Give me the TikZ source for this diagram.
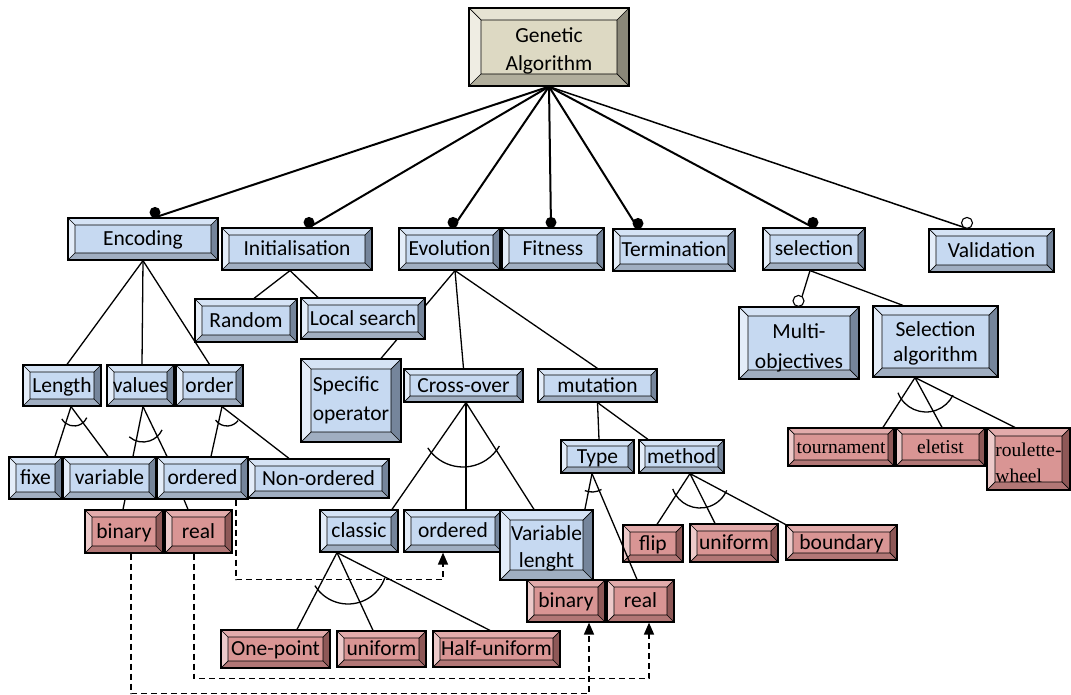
\documentclass[tikz,border=0pt]{standalone}
\usepackage{fontspec}
\newfontfamily\calfont{Carlito}
\newfontfamily\timesfont{Liberation Serif}
\usetikzlibrary{arrows.meta,calc}
\pgfdeclarelayer{bg}
\pgfsetlayers{bg,main}
\definecolor{bface}{HTML}{C6D9F1}
\definecolor{btop}{HTML}{D5E3F5}
\definecolor{bleft}{HTML}{E4EDF9}
\definecolor{bright}{HTML}{75859B}
\definecolor{bbot}{HTML}{A0AEC1}
\definecolor{rface}{HTML}{D99594}
\definecolor{rtop}{HTML}{E2ABAB}
\definecolor{rleft}{HTML}{EDCACA}
\definecolor{rright}{HTML}{8E5857}
\definecolor{rbot}{HTML}{B27776}
\definecolor{tface}{HTML}{DDD9C3}
\definecolor{ttop}{HTML}{E6E3D3}
\definecolor{tleft}{HTML}{EFEDE3}
\definecolor{tright}{HTML}{8A8778}
\definecolor{tbot}{HTML}{B1AE9C}
\newcommand\bevelpaint{%
  \path (path picture bounding box.north west) coordinate (pNW)
        (path picture bounding box.north east) coordinate (pNE)
        (path picture bounding box.south east) coordinate (pSE)
        (path picture bounding box.south west) coordinate (pSW);
  \path (pNW) ++(\bvd,-\bvd) coordinate (qNW)
        (pNE) ++(-\bvd,-\bvd) coordinate (qNE)
        (pSE) ++(-\bvd,\bvd) coordinate (qSE)
        (pSW) ++(\bvd,\bvd) coordinate (qSW);
  \fill[\bvT] (pNW) -- (pNE) -- (qNE) -- (qNW) -- cycle;
  \fill[\bvL] (pNW) -- (qNW) -- (qSW) -- (pSW) -- cycle;
  \fill[\bvR] (pNE) -- (pSE) -- (qSE) -- (qNE) -- cycle;
  \fill[\bvB] (pSW) -- (qSW) -- (qSE) -- (pSE) -- cycle;
  \draw[line width=0.7pt] (qNW) rectangle (qSE) (pNW)--(qNW) (pNE)--(qNE) (pSE)--(qSE) (pSW)--(qSW);
}
\newcommand\up[1]{\rule{0pt}{#1pt}}
\def\bvd{7}
\tikzset{
  x=1pt, y=1pt,
  bvd/.code={\def\bvd{#1}},
  blueb/.style={fill=bface,/utils/exec={\def\bvT{btop}\def\bvL{bleft}\def\bvR{bright}\def\bvB{bbot}}},
  redb/.style={fill=rface,/utils/exec={\def\bvT{rtop}\def\bvL{rleft}\def\bvR{rright}\def\bvB{rbot}}},
  tanb/.style={fill=tface,/utils/exec={\def\bvT{ttop}\def\bvL{tleft}\def\bvR{tright}\def\bvB{tbot}}},
  bb/.style={rectangle, draw=black, line width=1.2pt, inner sep=0pt, path picture={\bevelpaint},
    font=\calfont\fontsize{21.5}{27}\selectfont, text height=17pt, text depth=3.5pt},
  ml/.style={text height=, text depth=, align=center},
  tms/.style={font=\timesfont\fontsize{19.5}{26}\selectfont},
  wh/.style 2 args={minimum width=#1pt, minimum height=#2pt},
  ln/.style={line width=1.3pt, black},
  gaedge/.style={line width=2pt, black},
  dotc/.style={fill=black},
  odotc/.style={draw=black, fill=white, line width=1.1pt},
  dsh/.style={line width=1.5pt, dash pattern=on 6pt off 4pt, -{Triangle[length=12pt,width=10pt]}},
  arcl/.style={line width=1.3pt},
}
\begin{document}
\begin{tikzpicture}
\useasboundingbox (0,0) rectangle (1071,-695);
% ---------- boxes ----------
\node[bb,tanb,ml,bvd=12,wh={160}{78},font=\calfont\fontsize{21.5}{28}\selectfont] (ga) at (549,-47) {\up{23}Genetic\\Algorithm};
\node[bb,blueb,wh={150}{42}] (enc) at (143,-239) {Encoding};
\node[bb,blueb,wh={150}{42}] (ini) at (297,-249) {Initialisation};
\node[bb,blueb,wh={101}{42}] (evo) at (449.5,-249) {Evolution};
\node[bb,blueb,wh={102}{42}] (fit) at (553,-249) {Fitness};
\node[bb,blueb,wh={122}{42}] (ter) at (674,-250) {Termination};
\node[bb,blueb,wh={102}{42}] (sel) at (814,-249) {selection};
\node[bb,blueb,wh={125}{43}] (val) at (991.5,-250.5) {Validation};
\node[bb,blueb,wh={102}{43}] (rnd) at (246,-320.5) {Random};
\node[bb,blueb,wh={124}{41}] (loc) at (363,-318.5) {Local search};
\node[bb,blueb,ml,bvd=9,wh={120}{72},font=\calfont\fontsize{21.5}{30}\selectfont] (mob) at (799,-343) {\up{25}Multi-\\objectives};
\node[bb,blueb,ml,bvd=9,wh={125}{71},font=\calfont\fontsize{21.5}{25}\selectfont] (sal) at (935.5,-341.5) {\up{19}Selection\\algorithm};
\node[bb,blueb,wh={78}{41}] (len) at (62,-385.5) {Length};
\node[bb,blueb,wh={67}{41}] (vls) at (140.5,-385.5) {values};
\node[bb,blueb,wh={67}{41}] (ord) at (209.5,-385.5) {order};
\node[bb,blueb,ml,align=left,bvd=10,wh={100}{83},font=\calfont\fontsize{21.5}{29}\selectfont] (spe) at (351,-400.5) {Specific\\operator};
\node[bb,blueb,bvd=6,wh={119}{33}] (cro) at (463.5,-385.5) {Cross-over};
\node[bb,blueb,bvd=6,wh={119}{33}] (mut) at (597.5,-385.5) {mutation};
\node[bb,blueb,wh={53}{42}] (fix) at (35.5,-478) {fixe};
\node[bb,blueb,wh={93}{42}] (var) at (109.5,-478) {variable};
\node[bb,blueb,wh={91}{42}] (ordl) at (202.5,-478) {ordered};
\node[bb,blueb,wh={141}{39}] (non) at (318.5,-478.5) {Non-ordered};
\node[bb,redb,wh={78}{43}] (binl) at (124,-531.5) {binary};
\node[bb,redb,wh={67}{43}] (reall) at (198.5,-531.5) {real};
\node[bb,blueb,bvd=6,wh={73}{33}] (typ) at (597.5,-456.5) {Type};
\node[bb,blueb,bvd=6,wh={85}{33}] (met) at (681.5,-456.5) {method};
\node[bb,redb,tms,bvd=6,wh={106}{38}] (tou) at (841,-447) {tournament};
\node[bb,redb,tms,bvd=6,wh={89}{38}] (ele) at (940.5,-447) {eletist};
\node[bb,redb,tms,ml,align=left,bvd=8,wh={83}{62}] (rou) at (1028.5,-459) {\up{21}roulette-\\wheel};
\node[bb,blueb,wh={78}{42}] (cla) at (359,-531) {classic};
\node[bb,blueb,wh={98}{42}] (ordc) at (453,-531) {ordered};
\node[bb,blueb,ml,bvd=10,wh={93}{70},font=\calfont\fontsize{21.5}{27}\selectfont] (vle) at (546.5,-545) {\up{21}Variable\\lenght};
\node[bb,redb,wh={60}{37}] (fli) at (653,-543.5) {flip};
\node[bb,redb,wh={88}{38}] (unim) at (734,-543) {uniform};
\node[bb,redb,wh={111}{35}] (bou) at (841.5,-542.5) {boundary};
\node[bb,redb,wh={78}{42}] (binr) at (566,-601) {binary};
\node[bb,redb,wh={67}{42}] (realr) at (640.5,-601) {real};
\node[bb,redb,wh={109}{38}] (one) at (275.5,-649) {One-point};
\node[bb,redb,wh={89}{36}] (unic) at (381.5,-649) {uniform};
\node[bb,redb,wh={127}{36}] (hal) at (496.5,-649) {Half-uniform};
% ---------- connectors (behind boxes) ----------
\begin{pgfonlayer}{bg}
\draw[gaedge] (ga.south) -- ([xshift=12pt]enc.north);
\draw[gaedge] (ga.south) -- ([xshift=12pt]ini.north);
\draw[gaedge] (ga.south) -- ([xshift=3.5pt]evo.north);
\draw[gaedge] (ga.south) -- ([xshift=-2pt]fit.north);
\draw[gaedge] (ga.south) -- ([xshift=-36pt]ter.north);
\draw[gaedge] (ga.south) -- ([xshift=-1pt]sel.north);
\draw[line width=1.5pt] (ga.south) -- ([xshift=-24.5pt]val.north);
% encoding
\draw[ln] (enc.south) -- ([xshift=5pt]len.north);
\draw[ln] (enc.south) -- ([xshift=1.5pt]vls.north);
\draw[ln] (enc.south) -- (ord.north);
\draw[ln] ([xshift=9pt]len.south) -- ([xshift=19.5pt]fix.north);
\draw[ln] ([xshift=9pt]len.south) -- ([xshift=-1.5pt]var.north);
\draw[ln] ([xshift=2.5pt]vls.south) -- ([xshift=23.5pt]var.north);
\draw[ln] ([xshift=2.5pt]vls.south) -- ([xshift=-35.5pt]ordl.north);
\draw[ln] ([xshift=12.5pt]ord.south) -- ([xshift=8.5pt]ordl.north);
\draw[ln] ([xshift=12.5pt]ord.south) -- ([xshift=-29.5pt]non.north);
\draw[ln] ([xshift=15.5pt]var.south) -- ([xshift=-1pt]binl.north);
\draw[ln] ([xshift=-18.5pt]ordl.south) -- ([xshift=-10.5pt]reall.north);
% initialisation
\draw[ln] ([xshift=-7pt]ini.south) -- ([xshift=8pt]rnd.north);
\draw[ln] ([xshift=-7pt]ini.south) -- ([xshift=-45pt]loc.north);
% evolution
\draw[ln] ([xshift=5.5pt]evo.south) -- ([xshift=30pt]spe.north);
\draw[ln] ([xshift=5.5pt]evo.south) -- (cro.north);
\draw[ln] ([xshift=5.5pt]evo.south) -- (mut.north);
\draw[ln] ([xshift=2.5pt]cro.south) -- ([xshift=33pt]cla.north);
\draw[ln] ([xshift=2.5pt]cro.south) -- ([xshift=13pt]ordc.north);
\draw[ln] ([xshift=2.5pt]cro.south) -- ([xshift=-12.5pt]vle.north);
\draw[ln] (mut.south) -- ([xshift=1.5pt]typ.north);
\draw[ln] (mut.south) -- ([xshift=-33.5pt]met.north);
\draw[ln] ([xshift=-5.5pt]typ.south) -- ([xshift=5pt]binr.north);
\draw[ln] ([xshift=8.5pt]met.south) -- ([xshift=4pt]fli.north);
\draw[ln] ([xshift=8.5pt]met.south) -- ([xshift=-19pt]unim.north);
\draw[ln] ([xshift=8.5pt]met.south) -- (bou.north west);
\draw[ln] ([xshift=-22pt]cla.south) -- ([xshift=21.5pt]one.north);
\draw[ln] ([xshift=-22pt]cla.south) -- ([xshift=-8.5pt]unic.north);
\draw[ln] ([xshift=-22pt]cla.south) -- ([xshift=-6.5pt]hal.north);
% selection
\draw[ln] ([xshift=-4pt]sel.south) -- (mob.north);
\draw[ln] ([xshift=-4pt]sel.south) -- ([xshift=-32.5pt]sal.north);
\draw[ln] ([xshift=-20.5pt]sal.south) -- ([xshift=42pt]tou.north);
\draw[ln] ([xshift=-20.5pt]sal.south) -- ([xshift=1.5pt]ele.north);
\draw[ln] ([xshift=-20.5pt]sal.south) -- ([xshift=-13.5pt]rou.north);
\end{pgfonlayer}
% connector end markers
\fill[dotc] ([xshift=12pt,yshift=5pt]enc.north) circle[radius=5.5];
\fill[dotc] ([xshift=12pt,yshift=5pt]ini.north) circle[radius=5.5];
\fill[dotc] ([xshift=3.5pt,yshift=5pt]evo.north) circle[radius=5.5];
\fill[dotc] ([xshift=-2pt,yshift=5pt]fit.north) circle[radius=5.5];
\fill[dotc] ([xshift=-36pt,yshift=5pt]ter.north) circle[radius=5.5];
\fill[dotc] ([xshift=-1pt,yshift=5pt]sel.north) circle[radius=5.5];
\draw[odotc] ([xshift=-24.5pt,yshift=5.5pt]val.north) circle[radius=5.5];
\draw[odotc] ([xshift=-0.5pt,yshift=5.5pt]mob.north) circle[radius=5.5];
% line drawn over the flip box
\draw[ln] ([xshift=-5.5pt]typ.south) -- ([xshift=-3.5pt]realr.north);
% ---------- arcs ----------
\draw[arcl] (74,-412) ++(209.5:14) arc[start angle=209.5, end angle=336, radius=14];
\draw[arcl] (143,-421) ++(229:21) arc[start angle=229, end angle=335, radius=21];
\draw[arcl] (227,-412) ++(215:14) arc[start angle=215, end angle=322, radius=14];
\draw[arcl] (463,-425) ++(213:42) arc[start angle=213, end angle=330, radius=42];
\draw[arcl] (592,-473) ++(248:19) arc[start angle=248, end angle=300, radius=19];
\draw[arcl] (700,-479) ++(200:29) arc[start angle=200, end angle=337, radius=29];
\draw[arcl] (348,-565) ++(212:39) arc[start angle=212, end angle=341, radius=39];
\draw[arcl] (926,-382) ++(201:30) arc[start angle=201, end angle=334, radius=30];
% ---------- dashed links ----------
\draw[dsh] ([xshift=7pt]binl.south) -- ++(0,-140) -| ([xshift=23pt]binr.south);
\draw[dsh] ([xshift=-4.5pt]reall.south) -- ++(0,-125) -| ([xshift=8.5pt]realr.south);
\draw[dsh] ([xshift=33.5pt]ordl.south) -- ++(0,-80) -| ([xshift=-10pt]ordc.south);
\end{tikzpicture}
\end{document}
